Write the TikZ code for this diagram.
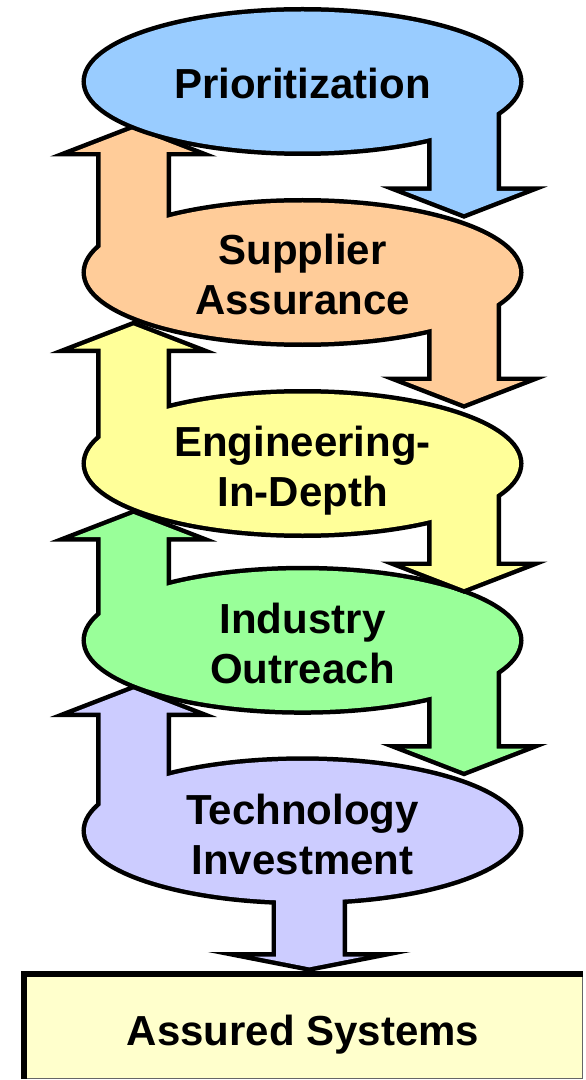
\documentclass[tikz,border=0pt]{standalone}
\usepackage{fontspec}
\setmainfont{Liberation Sans}
\usetikzlibrary{shapes.geometric}
\definecolor{cP}{HTML}{99CCFF}
\definecolor{cS}{HTML}{FFCC99}
\definecolor{cE}{HTML}{FFFF99}
\definecolor{cI}{HTML}{99FF99}
\definecolor{cT}{HTML}{CCCCFF}
\definecolor{cBox}{HTML}{FFFFCC}
\tikzset{
  oval/.style={ellipse, minimum width=216.5pt, minimum height=70pt, inner sep=0pt,
    fill=#1, preaction={draw=black, line width=4.5pt}},
  arrowline/.style={draw=black, line width=4.5pt, miter limit=25},
  lbl/.style={font=\bfseries\fontsize{21}{25}\selectfont, align=center, inner sep=0pt},
  boxst/.style={rectangle, minimum width=279pt, minimum height=52pt, inner sep=0pt,
    fill=cBox, draw=black!60, line width=0.5pt, text height=19pt, text depth=0pt,
    font=\bfseries\fontsize{21}{25}\selectfont},
}
% up arrow on the left: #1 = ellipse centre y, #2 = head base y
\newcommand\uppath[2]{(100.5,#1) -- (100.5,#2) -- (74,#2) -- (133.5,#2-23) -- (193,#2) -- (166.5,#2) -- (166.5,#1) -- cycle}
% down arrow on the right
\newcommand\downpath[2]{(431.5,#1) -- (431.5,#2) -- (404.5,#2) -- (464,#2+23) -- (523.5,#2) -- (496.5,#2) -- (496.5,#1) -- cycle}
\newcommand\botpath{(276,870) -- (276,956.5) -- (254.25,956.5) -- (309.25,967.3) -- (364.25,956.5) -- (342.5,956.5) -- (342.5,870) -- cycle}
\begin{document}
\begin{tikzpicture}[x=0.5pt,y=-0.5pt]
\useasboundingbox (0,0) rectangle (585,1080);
\fill[white] (0,0) rectangle (585,1080);

% result box
\node[boxst] (box) at (303,1026) {Assured Systems};
\draw[line width=3pt] (box.south west) -- (box.north west) -- (box.north east);

% Technology Investment
\draw[arrowline] \uppath{830.8}{712.5};
\draw[arrowline] \botpath;
\node[oval=cT] (T) at (302.5,830.8) {};
\fill[cT] \uppath{830.8}{712.5};
\fill[cT] \botpath;
\node[lbl] (Ttxt) at (302.5,834.2) {Technology\\Investment};

% Industry Outreach
\draw[arrowline] \uppath{640.3}{537};
\draw[arrowline] \downpath{640.3}{748.5};
\node[oval=cI] (I) at (302.5,640.3) {};
\fill[cI] \uppath{640.3}{537};
\fill[cI] \downpath{640.3}{748.5};
\node[lbl] (Itxt) at (302.5,643.3) {Industry\\Outreach};

% Engineering-In-Depth
\draw[arrowline] \uppath{463.5}{348.5};
\draw[arrowline] \downpath{463.5}{566};
\node[oval=cE] (E) at (302.5,463.5) {};
\fill[cE] \uppath{463.5}{348.5};
\fill[cE] \downpath{463.5}{566};
\node[lbl] (Etxt) at (302.5,471) {Engineering-\\In-Depth};

% Supplier Assurance
\draw[arrowline] \uppath{272.5}{152};
\draw[arrowline] \downpath{272.5}{381};
\node[oval=cS] (S) at (302.5,272.5) {};
\fill[cS] \uppath{272.5}{152};
\fill[cS] \downpath{272.5}{381};
\node[lbl] (Stxt) at (302.5,274.2) {Supplier\\Assurance};

% Prioritization
\draw[arrowline] \downpath{81.5}{191};
\node[oval=cP] (P) at (302.5,81.5) {};
\fill[cP] \downpath{81.5}{191};
\node[lbl] (Ptxt) at (302.5,83.3) {Prioritization};
\end{tikzpicture}
\end{document}
